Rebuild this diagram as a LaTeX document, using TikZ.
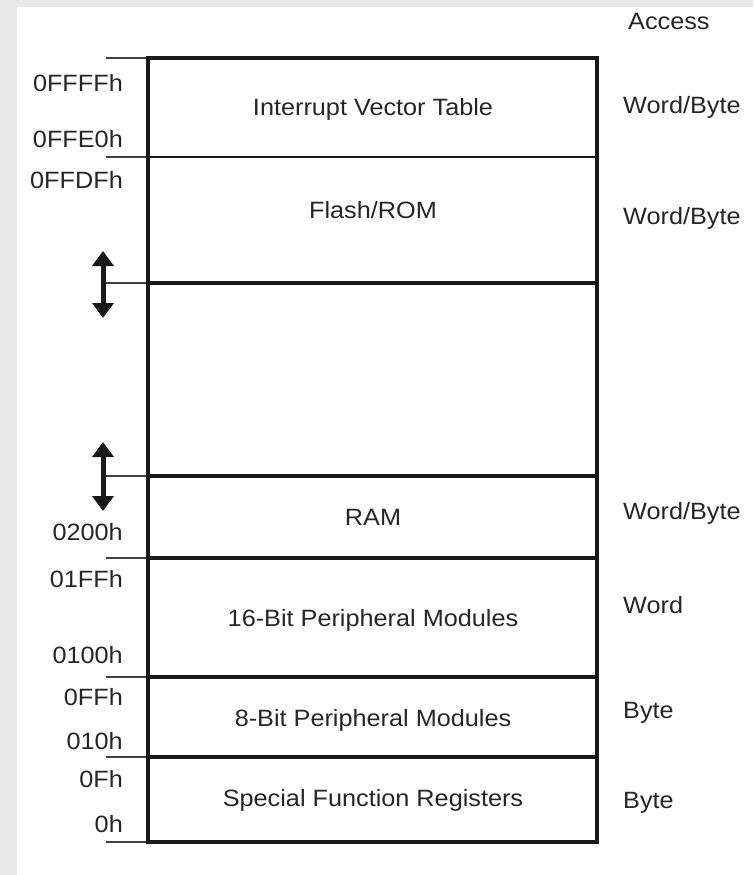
\documentclass[tikz,border=0pt]{standalone}
\usepackage{fontspec}
\setmainfont[FakeStretch=1.07]{Liberation Sans}
\usepackage{xcolor}
\usepackage{tikz}
\usetikzlibrary{arrows.meta,positioning}
\definecolor{inkgray}{HTML}{262626}
\definecolor{framegray}{HTML}{E8E8E8}

\begin{document}
\begin{tikzpicture}[x=1pt,y=-1pt,font=\fontsize{23.6}{27}\selectfont,text=inkgray,
    lbl/.style={inner sep=0pt,anchor=base},
    addr/.style={inner sep=0pt,anchor=base east},
    acc/.style={inner sep=0pt,anchor=base west},
    wall/.style={line width=4.5pt,black!90},
    tick/.style={line width=1.3pt,black!75},
    movearr/.style={line width=5pt,black!90,{Triangle[width=21pt,length=15pt]}-{Triangle[width=21pt,length=15pt]}}]
  % page with gray frame
  \fill[framegray] (0,0) rectangle (753,875);
  \fill[white] (17,7) rectangle (753,875);
  \useasboundingbox (0,0) rectangle (753,875);

  % corners of the map
  \coordinate (tl) at (148,58);
  \coordinate (br) at (597,842);

  % address ticks
  \draw[tick] (106,58) -- (148,58);
  \draw[tick] (106,157) -- (148,157);
  \draw[tick] (106,558) -- (148,558);
  \draw[tick] (106,677) -- (148,677);
  \draw[tick] (106,757) -- (148,757);
  \draw[tick] (106,842) -- (148,842);
  \draw[tick] (103,283) -- (148,283);
  \draw[tick] (103,476) -- (148,476);

  % region borders
  \draw[line width=2.5pt,black!90] (148,157) -- (597,157);
  \draw[wall] (148,283) -- (597,283);
  \draw[wall] (148,476) -- (597,476);
  \draw[wall] (148,558) -- (597,558);
  \draw[wall] (148,677) -- (597,677);
  \draw[wall] (148,757) -- (597,757);
  \draw[wall,line join=miter] (tl) rectangle (br);

  % movable limits
  \coordinate (romtop) at (103,251);
  \coordinate (rombot) at (103,318);
  \coordinate (ramtop) at (103,442);
  \coordinate (rambot) at (103,511);
  \draw[movearr] (romtop) -- (rombot);
  \draw[movearr] (ramtop) -- (rambot);

  % regions
  \node[lbl] (ivt)   at (373,115) {Interrupt Vector Table};
  \node[lbl] (flash) at (373,218) {Flash/ROM};
  \node[lbl] (ram)   at (373,525) {RAM};
  \node[lbl] (per16) at (373,626) {16-Bit Peripheral Modules};
  \node[lbl] (per8)  at (373,726) {8-Bit Peripheral Modules};
  \node[lbl] (sfr)   at (373,806) {Special Function Registers};

  % addresses
  \node[addr] (a1)  at (123,92)  {0FFFFh};
  \node[addr] (a2)  at (123,147) {0FFE0h};
  \node[addr] (a3)  at (123,188) {0FFDFh};
  \node[addr] (a4)  at (123,540) {0200h};
  \node[addr] (a5)  at (123,587) {01FFh};
  \node[addr] (a6)  at (123,663) {0100h};
  \node[addr] (a7)  at (123,705) {0FFh};
  \node[addr] (a8)  at (123,749) {010h};
  \node[addr] (a9)  at (123,787) {0Fh};
  \node[addr] (a10) at (123,832) {0h};

  % access column
  \node[acc] (acchead) at (628,30)  {Access};
  \node[acc] (acc1)    at (623,113) {Word/Byte};
  \node[acc] (acc2)    at (623,224) {Word/Byte};
  \node[acc] (acc3)    at (623,519) {Word/Byte};
  \node[acc] (acc4)    at (623,613) {Word};
  \node[acc] (acc5)    at (623,718) {Byte};
  \node[acc] (acc6)    at (623,808) {Byte};
\end{tikzpicture}
\end{document}
